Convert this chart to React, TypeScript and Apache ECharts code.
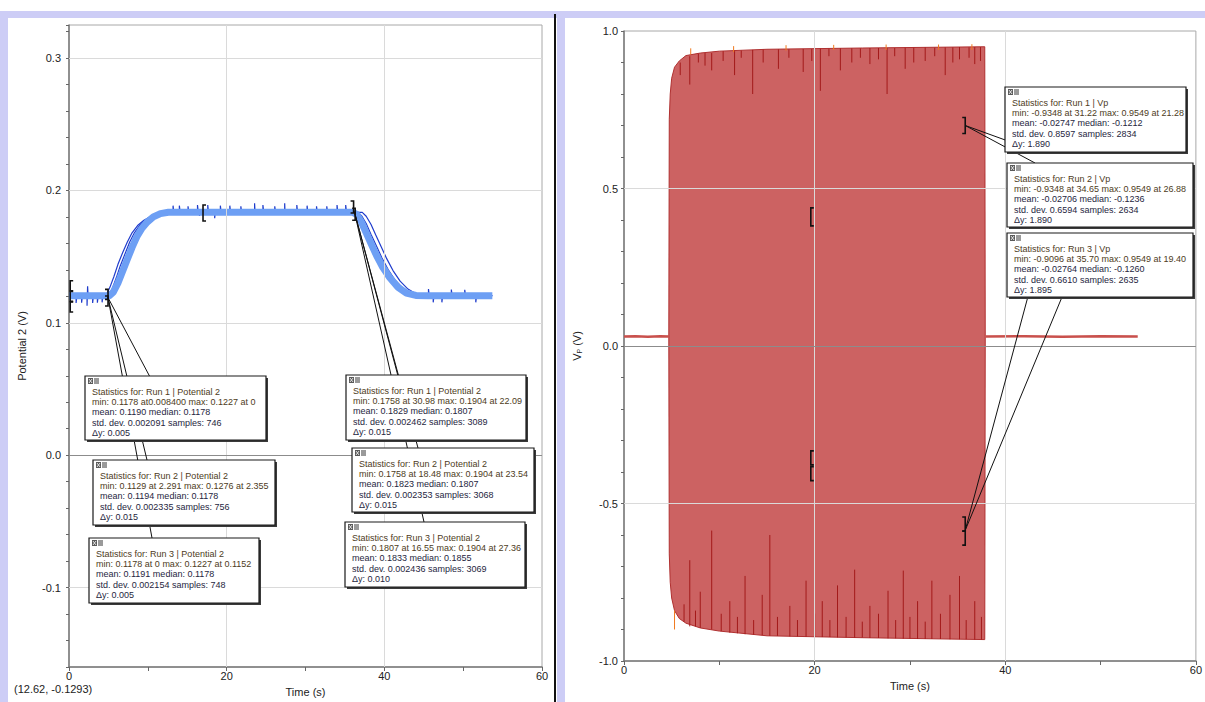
import React, { useEffect, useRef } from "react";
import * as echarts from "echarts";

const FONT = '"Liberation Sans", Arial, Helvetica, sans-serif';

// ---------------- tick labels ----------------
const leftXTickLabels = [0, 20, 40, 60];
const leftYTickLabels = [-0.1, 0.0, 0.1, 0.2, 0.3];
const rightXTickLabels = [0, 20, 40, 60];
const rightYTickLabels = [-1.0, -0.5, 0.0, 0.5, 1.0];

// ---------------- left chart: Potential 2 (V) ----------------
const run1Potential: number[][] = [
  [0, 0.1205], [5.1, 0.1205], [5.6, 0.123], [6.2, 0.13], [6.8, 0.139], [7.4, 0.148], [8.0, 0.157],
  [8.6, 0.165], [9.2, 0.171], [9.9, 0.176], [10.7, 0.18], [11.6, 0.1825], [12.6, 0.1835], [20, 0.1835],
  [30, 0.1835], [36.0, 0.1835], [36.5, 0.182], [37.1, 0.176], [37.7, 0.168], [38.3, 0.16], [39.0, 0.151],
  [39.8, 0.142], [40.7, 0.134], [41.7, 0.127], [42.8, 0.1225], [44.0, 0.1207], [45.5, 0.1205], [53.7, 0.1205],
];

const run2Potential: number[][] = [
  [0, 0.1205], [0.9, 0.1205], [0.9, 0.115], [1.0, 0.1205], [2.29, 0.1205], [2.29, 0.1129], [2.36, 0.1276],
  [2.42, 0.1205], [3.6, 0.1205], [3.6, 0.1152], [3.7, 0.1205], [4.7, 0.1205],
  [5.1, 0.1215], [5.5, 0.126], [6.0, 0.134], [6.5, 0.143], [7.1, 0.152], [7.7, 0.161], [8.3, 0.168],
  [9.0, 0.174], [9.8, 0.178], [10.7, 0.1812], [11.7, 0.1828], [12.6, 0.1835],
  [13.2, 0.1835], [13.2, 0.1885], [13.3, 0.1835], [15.1, 0.1835], [15.1, 0.188], [15.2, 0.1835],
  [17.6, 0.1835], [17.6, 0.189], [17.7, 0.1835], [18.48, 0.1835], [18.48, 0.179], [18.55, 0.1835],
  [20.4, 0.1835], [20.4, 0.1885], [20.5, 0.1835], [23.54, 0.1835], [23.54, 0.1904], [23.6, 0.1835],
  [26.1, 0.1835], [26.1, 0.188], [26.2, 0.1835], [28.9, 0.1835], [28.9, 0.189], [29.0, 0.1835],
  [31.4, 0.1835], [31.4, 0.188], [31.5, 0.1835], [34.0, 0.1835], [34.0, 0.189], [34.1, 0.1835],
  [36.6, 0.1835], [37.1, 0.181], [37.7, 0.175], [38.3, 0.167], [39.0, 0.158], [39.7, 0.149], [40.5, 0.14],
  [41.4, 0.132], [42.4, 0.126], [43.4, 0.1222], [44.5, 0.1207],
  [45.6, 0.1205], [45.6, 0.1255], [45.7, 0.1205], [47.3, 0.1205], [47.3, 0.1155], [47.4, 0.1205],
  [50.2, 0.1205], [50.2, 0.125], [50.3, 0.1205], [53.7, 0.1205],
];

const run3Potential: number[][] = [
  [0, 0.1205], [1.6, 0.1205], [1.6, 0.1152], [1.7, 0.1205], [3.0, 0.1205], [3.0, 0.115], [3.1, 0.1205],
  [4.2, 0.1205], [4.2, 0.1155], [4.3, 0.1205], [4.5, 0.1205],
  [4.8, 0.122], [5.2, 0.127], [5.7, 0.135], [6.2, 0.144], [6.8, 0.153], [7.4, 0.161], [8.0, 0.168],
  [8.7, 0.1735], [9.5, 0.1775], [10.4, 0.1805], [11.4, 0.1825], [12.4, 0.1835],
  [14.0, 0.1835], [14.0, 0.1885], [14.1, 0.1835], [16.3, 0.1835], [16.3, 0.189], [16.4, 0.1835],
  [16.55, 0.1835], [16.55, 0.1807], [16.6, 0.1835], [19.2, 0.1835], [19.2, 0.1885], [19.3, 0.1835],
  [21.8, 0.1835], [21.8, 0.188], [21.9, 0.1835], [24.6, 0.1835], [24.6, 0.189], [24.7, 0.1835],
  [27.36, 0.1835], [27.36, 0.1904], [27.4, 0.1835], [30.2, 0.1835], [30.2, 0.1885], [30.3, 0.1835],
  [32.7, 0.1835], [32.7, 0.188], [32.8, 0.1835], [35.1, 0.1835], [35.1, 0.189], [35.2, 0.1835],
  [37.2, 0.1835], [37.7, 0.1805], [38.3, 0.1745], [38.9, 0.1665], [39.6, 0.1575], [40.3, 0.1485],
  [41.1, 0.1395], [42.0, 0.1315], [43.0, 0.1255], [44.0, 0.122], [45.0, 0.1208],
  [46.2, 0.1205], [46.2, 0.1155], [46.3, 0.1205], [48.5, 0.1205], [48.5, 0.1252], [48.6, 0.1205],
  [51.6, 0.1205], [51.6, 0.1155], [51.7, 0.1205], [53.7, 0.1205],
];

// ---------------- right chart: Vp (V) ----------------
const vpBeforeBurst: number[][] = [[0, 0.03], [1.2, 0.031], [2.5, 0.029], [3.8, 0.031], [4.75, 0.03]];
const vpAfterBurst: number[][] = [[37.9, 0.03], [42, 0.031], [46, 0.029], [50, 0.031], [53.9, 0.03]];
const vpUpperEnvelope: number[][] = [
  [4.7, 0.03], [4.75, 0.72], [4.85, 0.8], [5.0, 0.85], [5.3, 0.885], [5.8, 0.905], [6.5, 0.922],
  [8, 0.93], [10, 0.936], [15, 0.942], [25, 0.946], [37.85, 0.95], [37.9, 0.03],
];
const vpLowerEnvelope: number[][] = [
  [4.7, 0.03], [4.75, -0.66], [4.85, -0.75], [5.0, -0.8], [5.3, -0.84], [5.8, -0.865], [6.5, -0.88],
  [8, -0.895], [10, -0.905], [15, -0.92], [25, -0.926], [37.85, -0.932], [37.9, 0.03],
];
// [time, from, to]
const vpTopSpikes: number[][] = [
  [6.9, 0.92, 0.83], [9.2, 0.93, 0.875], [11.6, 0.938, 0.86], [13.5, 0.94, 0.8], [16.2, 0.942, 0.88],
  [18.8, 0.943, 0.87], [20.6, 0.944, 0.81], [22.7, 0.945, 0.875], [25.8, 0.946, 0.895], [27.6, 0.946, 0.8],
  [29.5, 0.947, 0.88], [31.6, 0.948, 0.905], [33.7, 0.948, 0.86], [35.2, 0.949, 0.91], [36.8, 0.949, 0.895],
  [5.9, 0.9, 0.86], [7.8, 0.928, 0.9], [8.5, 0.93, 0.89], [10.4, 0.936, 0.905], [12.3, 0.938, 0.915],
  [14.6, 0.941, 0.9], [17.3, 0.942, 0.915], [19.7, 0.943, 0.905], [21.5, 0.944, 0.92], [23.9, 0.945, 0.9],
  [24.8, 0.945, 0.915], [26.7, 0.946, 0.91], [28.4, 0.946, 0.92], [30.4, 0.947, 0.9], [32.6, 0.947, 0.92],
  [34.5, 0.948, 0.9], [36.2, 0.948, 0.915], [37.4, 0.949, 0.905],
];
const vpBottomSpikes: number[][] = [
  [6.9, -0.89, -0.68], [8.0, -0.895, -0.78], [9.2, -0.9, -0.586], [11.1, -0.91, -0.81], [12.7, -0.915, -0.73],
  [14.5, -0.918, -0.79], [15.3, -0.92, -0.6], [17.4, -0.922, -0.825], [19.1, -0.923, -0.745],
  [20.8, -0.924, -0.81], [22.4, -0.925, -0.76], [24.2, -0.926, -0.71], [25.8, -0.927, -0.825],
  [27.7, -0.928, -0.777], [29.3, -0.929, -0.713], [30.8, -0.93, -0.81], [32.3, -0.93, -0.745],
  [34.2, -0.931, -0.79], [35.2, -0.931, -0.73], [36.8, -0.932, -0.81],
  [6.3, -0.875, -0.82], [7.5, -0.89, -0.84], [10.2, -0.905, -0.85], [11.9, -0.912, -0.86], [13.6, -0.916, -0.87],
  [16.1, -0.92, -0.86], [18.2, -0.922, -0.87], [20.0, -0.923, -0.85], [21.6, -0.924, -0.87], [23.3, -0.925, -0.86],
  [25.0, -0.926, -0.875], [26.7, -0.927, -0.85], [28.5, -0.928, -0.87], [30.0, -0.929, -0.86],
  [31.6, -0.93, -0.875], [33.2, -0.93, -0.85], [35.9, -0.931, -0.87], [37.5, -0.932, -0.86],
];
const vpOrangeTicks: number[][] = [
  [7.0, 0.945, 0.925], [11.5, 0.952, 0.933], [17.0, 0.955, 0.938], [22.0, 0.956, 0.94],
  [27.5, 0.957, 0.94], [33.0, 0.957, 0.94], [36.5, 0.958, 0.94], [5.3, -0.84, -0.9],
];

// ---------------- statistic annotations ----------------
// [time, value, kind, height(px)]
const leftBrackets: any[][] = [
  [0.15, 0.128, "[", 10], [0.15, 0.12, "[", 10], [0.15, 0.112, "[", 10],
  [4.95, 0.1215, "]", 10], [4.95, 0.1165, "]", 10],
  [17.0, 0.183, "[", 16],
  [36.1, 0.1875, "]", 12], [36.3, 0.182, "]", 12],
];
const rightBrackets: any[][] = [
  [35.8, 0.7, "]", 16], [19.6, 0.41, "[", 18], [19.6, -0.355, "[", 14], [19.6, -0.405, "[", 14],
  [35.8, -0.565, "]", 14], [35.8, -0.61, "]", 14],
];

const statBoxes = [
  { x: 85, y: 376, w: 181, h: 64, lines: ["Statistics for: Run 1 | Potential 2", "min: 0.1178 at0.008400 max: 0.1227 at 0", "mean: 0.1190 median: 0.1178", "std. dev. 0.002091 samples: 746", "Δy: 0.005"] },
  { x: 93, y: 460, w: 182, h: 65, lines: ["Statistics for: Run 2 | Potential 2", "min: 0.1129 at 2.291 max: 0.1276 at 2.355", "mean: 0.1194 median: 0.1178", "std. dev. 0.002335 samples: 756", "Δy: 0.015"] },
  { x: 89, y: 538, w: 170, h: 65, lines: ["Statistics for: Run 3 | Potential 2", "min: 0.1178 at 0 max: 0.1227 at 0.1152", "mean: 0.1191 median: 0.1178", "std. dev. 0.002154 samples: 748", "Δy: 0.005"] },
  { x: 346, y: 375, w: 180, h: 65, lines: ["Statistics for: Run 1 | Potential 2", "min: 0.1758 at 30.98 max: 0.1904 at 22.09", "mean: 0.1829 median: 0.1807", "std. dev. 0.002462 samples: 3089", "Δy: 0.015"] },
  { x: 352, y: 448, w: 182, h: 64, lines: ["Statistics for: Run 2 | Potential 2", "min: 0.1758 at 18.48 max: 0.1904 at 23.54", "mean: 0.1823 median: 0.1807", "std. dev. 0.002353 samples: 3068", "Δy: 0.015"] },
  { x: 345, y: 522, w: 180, h: 65, lines: ["Statistics for: Run 3 | Potential 2", "min: 0.1807 at 16.55 max: 0.1904 at 27.36", "mean: 0.1833 median: 0.1855", "std. dev. 0.002436 samples: 3069", "Δy: 0.010"] },
  { x: 1005, y: 87, w: 181, h: 65, lines: ["Statistics for: Run 1 | Vp", "min: -0.9348 at 31.22 max: 0.9549 at 21.28", "mean: -0.02747 median: -0.1212", "std. dev. 0.8597 samples: 2834", "Δy: 1.890"] },
  { x: 1007, y: 163, w: 186, h: 64, lines: ["Statistics for: Run 2 | Vp", "min: -0.9348 at 34.65 max: 0.9549 at 26.88", "mean: -0.02706 median: -0.1236", "std. dev. 0.6594 samples: 2634", "Δy: 1.890"] },
  { x: 1007, y: 233, w: 186, h: 64, lines: ["Statistics for: Run 3 | Vp", "min: -0.9096 at 35.70 max: 0.9549 at 19.40", "mean: -0.02764 median: -0.1260", "std. dev. 0.6610 samples: 2635", "Δy: 1.895"] },
];

const fmt1 = (v: number, step: number) => {
  const r = Math.round(v / step) * step;
  return Math.abs(v - r) < 1e-6 ? (Math.abs(r) < 1e-9 ? 0 : r).toFixed(1) : "";
};

function xAxisCfg(grid: number, labels: number[], gap: number, margin: number) {
  return {
    gridIndex: grid, type: "value", min: 0, max: 60, interval: 10,
    name: "Time (s)", nameLocation: "middle", nameGap: gap,
    nameTextStyle: { fontFamily: FONT, fontSize: 11, color: "#222" },
    axisLine: { show: true, onZero: false, lineStyle: { color: "#7a7a7a", width: 1.5 } },
    axisTick: { show: true, length: 4, lineStyle: { color: "#666" } },
    axisLabel: {
      margin, fontFamily: FONT, fontSize: 11, color: "#222",
      formatter: (v: number) => (labels.some((l) => Math.abs(l - v) < 1e-6) ? String(Math.round(v)) : ""),
    },
    splitLine: { show: false },
  };
}

function spikeSeries(data: number[][], color: string, width: number, z: number) {
  return {
    type: "custom", xAxisIndex: 1, yAxisIndex: 1, z, silent: true, clip: false,
    data, encode: { x: 0, y: [1, 2] },
    renderItem: (_p: any, api: any) => {
      const a = api.coord([api.value(0), api.value(1)]);
      const b = api.coord([api.value(0), api.value(2)]);
      return { type: "line", shape: { x1: a[0], y1: a[1], x2: b[0], y2: b[1] }, style: { stroke: color, lineWidth: width } };
    },
  };
}

export default function App() {
  const ref = useRef<HTMLDivElement>(null);
  useEffect(() => {
    const chart = echarts.init(ref.current!, undefined, { renderer: "svg" });
    const gridLine = { color: "#dadada", width: 1, type: "solid" };
    const option: any = {
      animation: false,
      grid: [
        { left: 69, top: 25, width: 473, height: 642, show: true, borderColor: "#a8a8a8", borderWidth: 1, backgroundColor: "transparent" },
        { left: 624, top: 31, width: 572, height: 630, show: true, borderColor: "#a8a8a8", borderWidth: 1, backgroundColor: "transparent" },
      ],
      xAxis: [xAxisCfg(0, leftXTickLabels, 19, 3), xAxisCfg(1, rightXTickLabels, 19, 3)],
      yAxis: [
        {
          gridIndex: 0, type: "value", min: -0.16, max: 0.325, interval: 0.02,
          name: "Potential 2 (V)", nameLocation: "middle", nameGap: 42, nameRotate: 90,
          nameTextStyle: { fontFamily: FONT, fontSize: 11, color: "#222" },
          axisLine: { show: true, onZero: false, lineStyle: { color: "#7a7a7a", width: 1.5 } },
          axisTick: { show: true, length: 3, lineStyle: { color: "#666" } },
          axisLabel: { margin: 8, fontFamily: FONT, fontSize: 11, color: "#222", formatter: (v: number) => fmt1(v, 0.1) },
          splitLine: { show: false },
        },
        {
          gridIndex: 1, type: "value", min: -1, max: 1, interval: 0.1,
          name: "{v|V}{p|P}{v| (V)}", nameLocation: "middle", nameGap: 41, nameRotate: 90,
          nameTextStyle: {
            fontFamily: FONT, fontSize: 11, color: "#222",
            rich: { v: { fontFamily: FONT, fontSize: 11, color: "#222" }, p: { fontFamily: FONT, fontSize: 7, color: "#222", padding: [5, 0, 0, 0] } },
          },
          axisLine: { show: true, onZero: false, lineStyle: { color: "#7a7a7a", width: 1.5 } },
          axisTick: { show: true, length: 3, lineStyle: { color: "#666" } },
          axisLabel: { margin: 6, fontFamily: FONT, fontSize: 11, color: "#222", formatter: (v: number) => fmt1(v, 0.5) },
          splitLine: { show: false },
        },
      ],
      series: [
        {
          type: "line", xAxisIndex: 0, yAxisIndex: 0, data: [], z: 1, silent: true,
          markLine: {
            silent: true, symbol: ["none", "none"], label: { show: false }, lineStyle: gridLine,
            data: [
              ...leftXTickLabels.filter((v) => v > 0 && v < 60).map((v) => ({ xAxis: v })),
              ...leftYTickLabels.filter((v) => v !== 0).map((v) => ({ yAxis: v })),
              { yAxis: 0, lineStyle: { color: "#8c8c8c", width: 1, type: "solid" } },
            ],
          },
        },
        { name: "Run 2", type: "line", xAxisIndex: 0, yAxisIndex: 0, data: run2Potential, symbol: "none", z: 3, lineStyle: { color: "#1f3ccc", width: 1.2 } },
        { name: "Run 3", type: "line", xAxisIndex: 0, yAxisIndex: 0, data: run3Potential, symbol: "none", z: 3, lineStyle: { color: "#1f3ccc", width: 1.2 } },
        { name: "Run 1", type: "line", xAxisIndex: 0, yAxisIndex: 0, data: run1Potential, symbol: "none", z: 4, lineStyle: { color: "#6d9ff4", width: 7, join: "round", cap: "butt" } },

        {
          type: "line", xAxisIndex: 1, yAxisIndex: 1, data: [], z: 1, silent: true,
          markLine: {
            silent: true, symbol: ["none", "none"], label: { show: false }, lineStyle: gridLine,
            data: [
              ...rightXTickLabels.filter((v) => v > 0 && v < 60).map((v) => ({ xAxis: v })),
              ...rightYTickLabels.filter((v) => v !== 0 && Math.abs(v) < 1).map((v) => ({ yAxis: v })),
              { yAxis: 0, lineStyle: { color: "#8c8c8c", width: 1, type: "solid" } },
            ],
          },
        },
        { type: "line", xAxisIndex: 1, yAxisIndex: 1, data: vpBeforeBurst, symbol: "none", z: 3, lineStyle: { color: "#c9504c", width: 2.5 } },
        { type: "line", xAxisIndex: 1, yAxisIndex: 1, data: vpAfterBurst, symbol: "none", z: 3, lineStyle: { color: "#c9504c", width: 2.5 } },
        {
          type: "custom", xAxisIndex: 1, yAxisIndex: 1, z: 3, silent: true, clip: false,
          data: [[20, 0]],
          renderItem: (_p: any, api: any) => {
            const pts = [...vpUpperEnvelope.map((p) => api.coord(p)), ...vpLowerEnvelope.slice().reverse().map((p) => api.coord(p))];
            return { type: "polygon", shape: { points: pts }, style: { fill: "#cc6262", stroke: "#b03030", lineWidth: 1 } };
          },
        },
        spikeSeries(vpTopSpikes, "#a31a1a", 1, 4),
        spikeSeries(vpBottomSpikes, "#a31a1a", 1, 4),
        spikeSeries(vpOrangeTicks, "#f07a20", 1, 5),
      ],
    };
    chart.setOption(option);

    const toPx = (g: number, p: number[]) => chart.convertToPixel({ gridIndex: g } as any, p) as unknown as number[];
    const els: any[] = [];
    const lav = "#cdcdf6";
    // page frame
    els.push({ type: "rect", shape: { x: 0, y: 0, width: 1205, height: 702 }, style: { fill: "#ffffff" }, z: -10 });
    els.push({ type: "rect", shape: { x: 0, y: 11, width: 1205, height: 7 }, style: { fill: lav }, z: -9 });
    els.push({ type: "rect", shape: { x: 0, y: 11, width: 8, height: 691 }, style: { fill: lav }, z: -9 });
    els.push({ type: "rect", shape: { x: 557, y: 11, width: 8, height: 691 }, style: { fill: lav }, z: -9 });
    els.push({ type: "rect", shape: { x: 554, y: 14, width: 2, height: 688 }, style: { fill: "#111" }, z: -8 });
    els.push({
      type: "text", x: 14, y: 689, z: 20,
      style: { text: "(12.62, -0.1293)", fill: "#222", fontFamily: FONT, fontSize: 11, textAlign: "left", textVerticalAlign: "middle", verticalAlign: "middle" },
    });

    const bracket = (g: number, b: any[]) => {
      const [x, y] = toPx(g, [b[0], b[1]]);
      const h = b[3] / 2;
      const d = b[2] === "[" ? 3 : -3;
      els.push({
        type: "polyline", z: 30,
        shape: { points: [[x + d, y - h], [x, y - h], [x, y + h], [x + d, y + h]] },
        style: { stroke: "#111", lineWidth: 1.6, fill: "none" },
      });
    };
    leftBrackets.forEach((b) => bracket(0, b));
    rightBrackets.forEach((b) => bracket(1, b));

    const leader = (from: number[], to: number[]) =>
      els.push({ type: "line", z: 31, shape: { x1: from[0], y1: from[1], x2: to[0], y2: to[1] }, style: { stroke: "#111", lineWidth: 1 } });
    const g1 = toPx(0, [4.95, 0.119]);
    [[150, 377], [147, 460], [152, 538]].forEach((p) => leader(g1, p));
    const g2 = toPx(0, [36.2, 0.184]);
    [[398, 376], [418, 448], [424, 522]].forEach((p) => leader(g2, p));
    const r1 = toPx(1, [35.8, 0.7]);
    [[1008, 141], [1035, 163]].forEach((p) => leader(r1, p));
    const r2 = toPx(1, [35.8, -0.585]);
    [[1045, 233], [1062, 297]].forEach((p) => leader(r2, p));

    statBoxes.forEach((b) => {
      els.push({ type: "rect", z: 60, shape: { x: b.x + 2, y: b.y + 2, width: b.w, height: b.h }, style: { fill: "#3a3a3a" } });
      els.push({ type: "rect", z: 61, shape: { x: b.x, y: b.y, width: b.w, height: b.h }, style: { fill: "#ffffff", stroke: "#1a1a1a", lineWidth: 1.2 } });
      els.push({ type: "rect", z: 62, shape: { x: b.x + 3, y: b.y + 2, width: 5, height: 6 }, style: { fill: "#5a5a5a" } });
      els.push({ type: "rect", z: 62, shape: { x: b.x + 9, y: b.y + 2, width: 5, height: 6 }, style: { fill: "#9a9a9a" } });
      els.push({ type: "line", z: 63, shape: { x1: b.x + 4, y1: b.y + 3, x2: b.x + 7, y2: b.y + 7 }, style: { stroke: "#fff", lineWidth: 0.8 } });
      els.push({ type: "line", z: 63, shape: { x1: b.x + 7, y1: b.y + 3, x2: b.x + 4, y2: b.y + 7 }, style: { stroke: "#fff", lineWidth: 0.8 } });
      b.lines.forEach((t, i) => {
        els.push({
          type: "text", z: 63, x: b.x + 7, y: b.y + 16 + i * 10.2,
          style: {
            text: t, fill: i < 2 ? "#4d3b22" : "#262640", fontFamily: FONT, fontSize: 9,
            textAlign: "left", textVerticalAlign: "middle", verticalAlign: "middle",
          },
        });
      });
    });

    chart.setOption({ graphic: { elements: els } });
    return () => chart.dispose();
  }, []);
  return <div ref={ref} style={{ position: "absolute", left: 0, top: 0, width: 1205, height: 702 }} />;
}
